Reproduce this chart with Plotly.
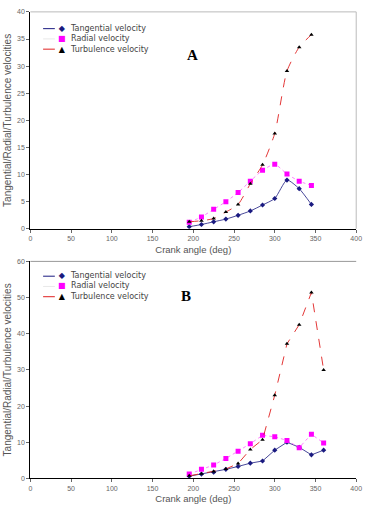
import plotly.graph_objects as go

# Chart A data
xA = [195, 210, 225, 240, 255, 270, 285, 300, 315, 330, 345]
tanA = [0.4, 0.8, 1.3, 1.8, 2.5, 3.3, 4.4, 5.6, 9.0, 7.4, 4.5]
radA = [1.2, 2.2, 3.6, 5.0, 6.7, 8.8, 10.8, 11.9, 10.1, 8.8, 8.0]
turA = [1.3, 1.5, 1.9, 3.1, 4.5, 8.3, 11.8, 17.6, 29.1, 33.5, 35.8]

# Chart B data
xB = [195, 210, 225, 240, 255, 270, 285, 300, 315, 330, 345, 360]
tanB = [0.6, 1.2, 1.7, 2.5, 3.3, 4.2, 4.8, 7.8, 10.0, 8.6, 6.5, 7.8]
radB = [1.2, 2.5, 3.7, 5.5, 7.5, 9.6, 11.9, 11.5, 10.5, 8.5, 12.2, 9.8]
turB = [0.7, 1.3, 1.9, 2.6, 4.1, 8.0, 10.7, 23.0, 37.2, 42.5, 51.4, 30.0]

names = ["Tangential velocity", "Radial velocity", "Turbulence velocity"]
xticks = [0, 50, 100, 150, 200, 250, 300, 350, 400]
yticksA = [0, 5, 10, 15, 20, 25, 30, 35, 40]
yticksB = [0, 10, 20, 30, 40, 50, 60]

W, H = 372, 508
def px(v): return v / W
def py(v): return 1 - v / H

fig = go.Figure()

line_colors = ["#1a1a80", "#ff60ff", "#e02020"]
legend_line_colors = ["#1a1a80", "#e8e8e8", "#e02020"]
marker_colors = ["#1a1a80", "#ff00ff", "#000000"]
legend_glyphs = ["\u25c6", "\u25a0", "\u25b2"]
styles = [
    dict(line=dict(color=line_colors[0], width=0.8), marker=dict(symbol="diamond", color=marker_colors[0], size=4)),
    dict(line=dict(color=line_colors[1], width=0.8, dash="dot"), marker=dict(symbol="square", color=marker_colors[1], size=5)),
    dict(line=dict(color=line_colors[2], width=0.9, dash="dash"), marker=dict(symbol="triangle-up", color=marker_colors[2], size=4)),
]

for i, ys in enumerate([tanA, radA, turA]):
    st = styles[i]
    fig.add_trace(go.Scatter(x=xA, y=ys, name=names[i], mode="lines+markers",
                             line=dict(**st["line"], shape="spline", smoothing=0.6),
                             marker=st["marker"], xaxis="x", yaxis="y", showlegend=False))
for i, ys in enumerate([tanB, radB, turB]):
    st = styles[i]
    fig.add_trace(go.Scatter(x=xB, y=ys, name=names[i], mode="lines+markers",
                             line=st["line"], marker=st["marker"],
                             xaxis="x2", yaxis="y2", showlegend=False))

axfont = dict(family="Liberation Sans, Arial", size=7, color="#666666")
titlefont = dict(family="Liberation Sans, Arial", size=9.5, color="#555555")
common_x = dict(range=[0, 400], tickvals=xticks, showgrid=False, zeroline=False,
                showline=True, linecolor="black", linewidth=1.2, ticks="outside",
                ticklen=3, tickcolor="#666", tickfont=axfont,
                title=dict(text="Crank angle (deg)", font=titlefont, standoff=4))
common_y = dict(showgrid=False, zeroline=False, showline=True, linecolor="black",
                linewidth=1.2, ticks="outside", ticklen=3, tickcolor="#666", tickfont=axfont,
                title=dict(font=dict(family="Liberation Sans, Arial", size=10, color="#555555"), standoff=3))

annotations = [
    dict(text="<b>A</b>", x=px(195), y=py(42), xref="paper", yref="paper", showarrow=False,
         font=dict(family="Liberation Serif, Times New Roman", size=15, color="black")),
    dict(text="<b>B</b>", x=px(188), y=py(296), xref="paper", yref="paper", showarrow=False,
         font=dict(family="Liberation Serif, Times New Roman", size=15, color="black")),
]
shapes = [
    dict(type="line", xref="x domain", yref="y domain", x0=0, x1=1, y0=1, y1=1, line=dict(color="#bbbbbb", width=1)),
    dict(type="line", xref="x domain", yref="y domain", x0=1, x1=1, y0=0, y1=1, line=dict(color="#bbbbbb", width=1)),
    dict(type="line", xref="x2 domain", yref="y2 domain", x0=0, x1=1, y0=1, y1=1, line=dict(color="#999999", width=1)),
]

# custom compact legends (one multi-line text block per chart)
FS = 8
LH = FS * 1.3
for top in (25, 276):
    for i in range(3):
        yy = top + i * LH
        shapes.append(dict(type="line", xref="paper", yref="paper", x0=px(42), x1=px(54),
                           y0=py(yy), y1=py(yy), line=dict(color=legend_line_colors[i], width=1)))
    glyphs = "<br>".join("<span style='color:%s'>%s</span>" % (marker_colors[i], legend_glyphs[i]) for i in range(3))
    annotations.append(dict(text=glyphs, x=px(61), y=py(top + LH), xref="paper", yref="paper",
                            showarrow=False, xanchor="center", yanchor="middle", borderpad=0,
                            font=dict(family="DejaVu Sans", size=FS, color="#000")))
    annotations.append(dict(text="<br>".join(names), x=px(68), y=py(top + LH), xref="paper", yref="paper",
                            showarrow=False, xanchor="left", yanchor="middle", align="left", borderpad=0,
                            font=dict(family="DejaVu Sans", size=FS, color="#444444")))

fig.update_layout(
    width=W, height=H, margin=dict(l=0, r=0, t=0, b=0),
    paper_bgcolor="white", plot_bgcolor="white",
    xaxis=dict(common_x, domain=[px(29), px(362)], anchor="y"),
    yaxis=dict(common_y, domain=[py(228), py(8)], range=[0, 40], tickvals=yticksA, anchor="x",
               title=dict(common_y["title"], text="Tangential/Radial/Turbulence velocities")),
    xaxis2=dict(common_x, domain=[px(29), px(362)], anchor="y2"),
    yaxis2=dict(common_y, domain=[py(481), py(261)], range=[0, 60], tickvals=yticksB, anchor="x2",
                title=dict(common_y["title"], text="Tangential/Radial/Turbulence velocities")),
    showlegend=False,
    annotations=annotations,
    shapes=shapes,
)

fig.write_html("out.html")
